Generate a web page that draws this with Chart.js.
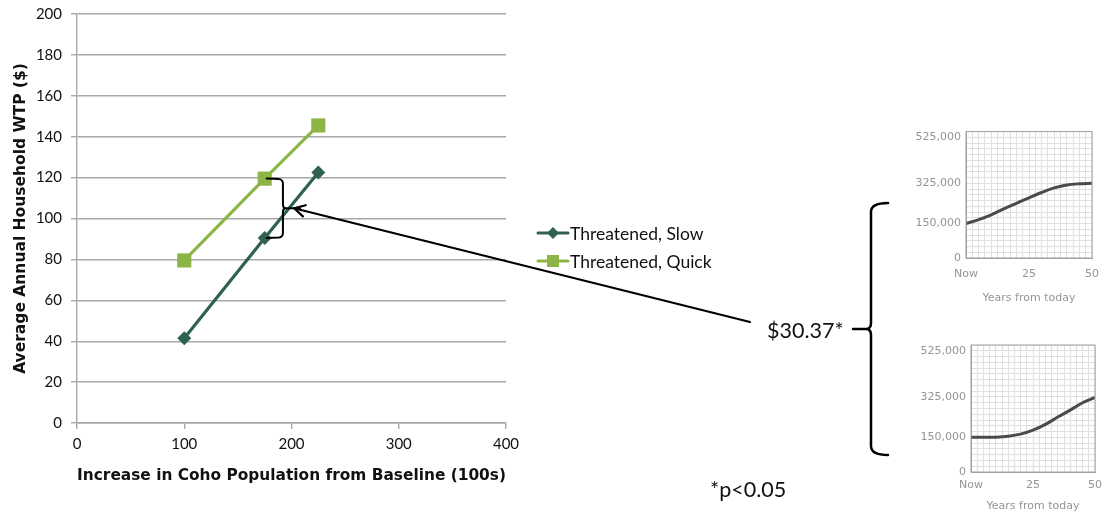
<!DOCTYPE html>
<html>
<head>
<meta charset="utf-8">
<script src="https://cdn.jsdelivr.net/npm/chart.js@4.4.1/dist/chart.umd.min.js"></script>
<style>
  html, body { margin: 0; padding: 0; background: #fff; width: 1109px; height: 512px; overflow: hidden; }
  #wrap { position: relative; width: 1109px; height: 512px; }
  canvas { position: absolute; }
  #main { left: 0; top: 0; }
  #insetQuick { left: 890px; top: 120px; filter: blur(0.5px); }
  #insetSlow { left: 890px; top: 330px; filter: blur(0.5px); }
</style>
</head>
<body>
<div id="wrap">
  <canvas id="main" width="1109" height="512"></canvas>
  <canvas id="insetQuick" width="219" height="190"></canvas>
  <canvas id="insetSlow" width="219" height="182"></canvas>
</div>
<script>
// Increase in coho population from baseline (100s)
const cohoIncrease = [100, 175, 225];
// Average annual household WTP ($)
const wtpSlow = [41.5, 90.5, 122.5];
const wtpQuick = [79.5, 119.5, 145.5];
const seriesNames = ['Threatened, Slow', 'Threatened, Quick'];
const wtpTicks = { min: 0, max: 200, step: 20 };
const cohoTicks = { min: 0, max: 400, step: 100 };

const diffText = '$30.37*';
const noteText = '*p<0.05';

// Recovery paths shown to respondents (population vs years from today)
const years = [0, 5, 10, 15, 20, 25, 30, 35, 40, 45, 50];
const pathQuick = [150000, 167000, 188000, 214000, 238000, 262000, 285000, 305000, 318000, 323000, 325000];
const pathSlow = [150000, 150000, 151000, 155000, 164000, 181000, 206000, 238000, 268000, 300000, 323000];
const popLabels = [0, 150000, 325000, 525000];
const yearLabels = { 0: 'Now', 25: '25', 50: '50' };

const SLOW_COLOR = '#2f6151';
const QUICK_COLOR = '#8cb545';
const GRID = '#a8a8a8';
const FONT = 'Lato, "Open Sans", sans-serif';
const BOLD_FONT = '"DejaVu Sans", sans-serif';

// Nudge layout padding until the plot area sits on the wanted rectangle
function pinArea(chart, area) {
  for (let i = 0; i < 5; i++) {
    const ca = chart.chartArea;
    const p = chart.options.layout.padding;
    p.left += area.left - ca.left;
    p.top += area.top - ca.top;
    p.right += ca.right - area.right;
    p.bottom += ca.bottom - area.bottom;
    chart.update('none');
  }
}

// Bracket between the two series at 175, arrow to the difference label,
// brace grouping the two recovery paths, and the legend
const annotations = {
  id: 'annotations',
  afterDatasetsDraw(chart) {
    const { ctx, scales: { x, y } } = chart;
    ctx.save();
    ctx.strokeStyle = '#000';
    ctx.fillStyle = '#000';
    ctx.lineCap = 'round';
    ctx.lineJoin = 'round';

    // bracket
    const x0 = x.getPixelForValue(cohoIncrease[1]) + 2;
    const xb = x.getPixelForValue(192);
    const xt = x.getPixelForValue(208);
    const yTop = y.getPixelForValue(wtpQuick[1]);
    const yBot = y.getPixelForValue(wtpSlow[1]);
    const yMid = (yTop + yBot) / 2;
    ctx.lineWidth = 2;
    ctx.beginPath();
    ctx.moveTo(x0, yTop);
    ctx.lineTo(xb - 4, yTop + 0.5);
    ctx.quadraticCurveTo(xb, yTop + 1, xb, yTop + 5);
    ctx.lineTo(xb, yMid - 4);
    ctx.quadraticCurveTo(xb, yMid, xb + 3, yMid);
    ctx.lineTo(xt, yMid);
    ctx.moveTo(xb + 3, yMid);
    ctx.quadraticCurveTo(xb, yMid, xb, yMid + 4);
    ctx.lineTo(xb, yBot - 5);
    ctx.quadraticCurveTo(xb, yBot - 1, xb - 4, yBot - 0.5);
    ctx.lineTo(x0, yBot);
    ctx.stroke();

    // arrow from the label to the bracket tip
    const ax = 750, ay = 322;
    const tx = xt - 6, ty = yMid;
    ctx.lineWidth = 2.2;
    ctx.beginPath();
    ctx.moveTo(ax, ay);
    ctx.lineTo(tx, ty);
    const ang = Math.atan2(ay - ty, ax - tx);
    const len = 12;
    ctx.moveTo(tx + len * Math.cos(ang - 0.5), ty + len * Math.sin(ang - 0.5));
    ctx.lineTo(tx, ty);
    ctx.lineTo(tx + len * Math.cos(ang + 0.5), ty + len * Math.sin(ang + 0.5));
    ctx.stroke();

    // labels
    ctx.font = '21.5px ' + FONT;
    ctx.textBaseline = 'middle';
    ctx.textAlign = 'left';
    ctx.fillStyle = '#111';
    ctx.fillText(diffText, 767, 331);
    ctx.fillText(noteText, 710, 490);

    // brace
    ctx.lineWidth = 2.5;
    ctx.beginPath();
    ctx.moveTo(888, 203);
    ctx.quadraticCurveTo(871, 203, 871, 212);
    ctx.lineTo(871, 323);
    ctx.quadraticCurveTo(871, 329, 866, 329);
    ctx.quadraticCurveTo(871, 329, 871, 335);
    ctx.lineTo(871, 446);
    ctx.quadraticCurveTo(871, 455, 888, 455);
    ctx.moveTo(853, 329);
    ctx.lineTo(867, 329);
    ctx.stroke();

    // legend
    const legendY = [233, 261];
    chart.data.datasets.forEach((ds, i) => {
      const ly = legendY[i];
      ctx.strokeStyle = ds.borderColor;
      ctx.lineWidth = 3;
      ctx.beginPath();
      ctx.moveTo(538, ly);
      ctx.lineTo(568, ly);
      ctx.stroke();
      ctx.fillStyle = ds.backgroundColor;
      Chart.helpers.drawPoint(ctx, { pointStyle: ds.pointStyle, radius: ds.pointRadius * 0.85, borderWidth: 0 }, 553, ly);
      ctx.fillStyle = '#111';
      ctx.font = '17.5px ' + FONT;
      ctx.fillText(ds.label, 570, ly + 1);
    });
    ctx.restore();
  }
};

const tickFont = { family: FONT, size: 15 };
const titleFont = { family: BOLD_FONT, size: 15.5, weight: 'bold' };

const mainChart = new Chart(document.getElementById('main'), {
  type: 'scatter',
  data: {
    datasets: [
      {
        label: seriesNames[0],
        data: cohoIncrease.map((c, i) => ({ x: c, y: wtpSlow[i] })),
        showLine: true,
        borderColor: SLOW_COLOR,
        backgroundColor: SLOW_COLOR,
        borderWidth: 3.2,
        pointStyle: 'rectRot',
        pointRadius: 7,
        pointBorderWidth: 0
      },
      {
        label: seriesNames[1],
        data: cohoIncrease.map((c, i) => ({ x: c, y: wtpQuick[i] })),
        showLine: true,
        borderColor: QUICK_COLOR,
        backgroundColor: QUICK_COLOR,
        borderWidth: 3.2,
        pointStyle: 'rect',
        pointRadius: 10,
        pointBorderWidth: 0
      }
    ]
  },
  options: {
    responsive: false,
    animation: false,
    events: [],
    layout: { padding: { left: 0, top: 14, right: 590, bottom: 30 } },
    plugins: { legend: { display: false }, tooltip: { enabled: false } },
    scales: {
      x: {
        type: 'linear',
        min: cohoTicks.min, max: cohoTicks.max,
        ticks: { stepSize: cohoTicks.step, color: '#111', font: tickFont, padding: 6 },
        grid: { drawOnChartArea: false, drawTicks: true, tickLength: 6, color: GRID, lineWidth: 1.4 },
        border: { color: GRID, width: 1.4 },
        title: { display: true, text: 'Increase in Coho Population from Baseline (100s)', color: '#111', font: titleFont, padding: { top: 8, bottom: 0 } }
      },
      y: {
        min: wtpTicks.min, max: wtpTicks.max,
        ticks: { stepSize: wtpTicks.step, color: '#111', font: tickFont, padding: 9 },
        grid: { color: GRID, lineWidth: 1.4, tickLength: 6 },
        border: { color: GRID, width: 1.4 },
        title: { display: true, text: 'Average Annual Household WTP ($)', color: '#111', font: titleFont, padding: { top: 0, bottom: 5 } },
        afterFit(scale) { scale.paddingTop = 0; scale.paddingBottom = 0; scale.width -= 8; }
      }
    }
  },
  plugins: [annotations]
});
pinArea(mainChart, { left: 77, top: 14, right: 506, bottom: 423 });

// Frame around an inset plot
const frame = {
  id: 'frame',
  afterDraw(chart) {
    const { ctx, chartArea: a } = chart;
    ctx.save();
    ctx.strokeStyle = '#a0a0a0';
    ctx.lineWidth = 1;
    ctx.strokeRect(a.left, a.top, a.right - a.left, a.bottom - a.top);
    ctx.restore();
  }
};

function insetChart(id, path, area, labelGap) {
  const insetFont = { family: '"DejaVu Sans", sans-serif', size: 11 };
  const chart = new Chart(document.getElementById(id), {
    type: 'scatter',
    data: {
      datasets: [{
        data: years.map((t, i) => ({ x: t, y: path[i] })),
        showLine: true,
        borderColor: '#4a4a4a',
        borderWidth: 3,
        pointRadius: 0,
        cubicInterpolationMode: 'monotone'
      }]
    },
    options: {
      responsive: false,
      animation: false,
      events: [],
      layout: { padding: { left: 0, top: 5, right: 10, bottom: 5 } },
      plugins: { legend: { display: false }, tooltip: { enabled: false } },
      scales: {
        x: {
          type: 'linear', min: 0, max: 50,
          ticks: { stepSize: 2.5, autoSkip: false, maxRotation: 0, color: '#959595', font: insetFont, padding: labelGap,
                   callback: v => (yearLabels[v] !== undefined ? yearLabels[v] : '') },
          grid: { color: '#e0e0e0', lineWidth: 1, drawTicks: false },
          border: { color: '#a0a0a0' },
          title: { display: true, text: 'Years from today', color: '#959595', font: insetFont, padding: { top: 0, bottom: 0 } }
        },
        y: {
          min: 0, max: 550000,
          ticks: { stepSize: 25000, autoSkip: false, color: '#959595', font: insetFont, padding: 5,
                   callback: v => (popLabels.includes(v) ? v.toLocaleString('en-US') : '') },
          grid: { color: '#e0e0e0', lineWidth: 1, drawTicks: false },
          border: { color: '#a0a0a0' }
        }
      }
    },
    plugins: [frame]
  });
  pinArea(chart, area);
  return chart;
}

insetChart('insetQuick', pathQuick, { left: 76, top: 10, right: 207, bottom: 138 }, 10);
insetChart('insetSlow', pathSlow, { left: 81, top: 15, right: 210, bottom: 142 }, 7);
</script>
</body>
</html>
